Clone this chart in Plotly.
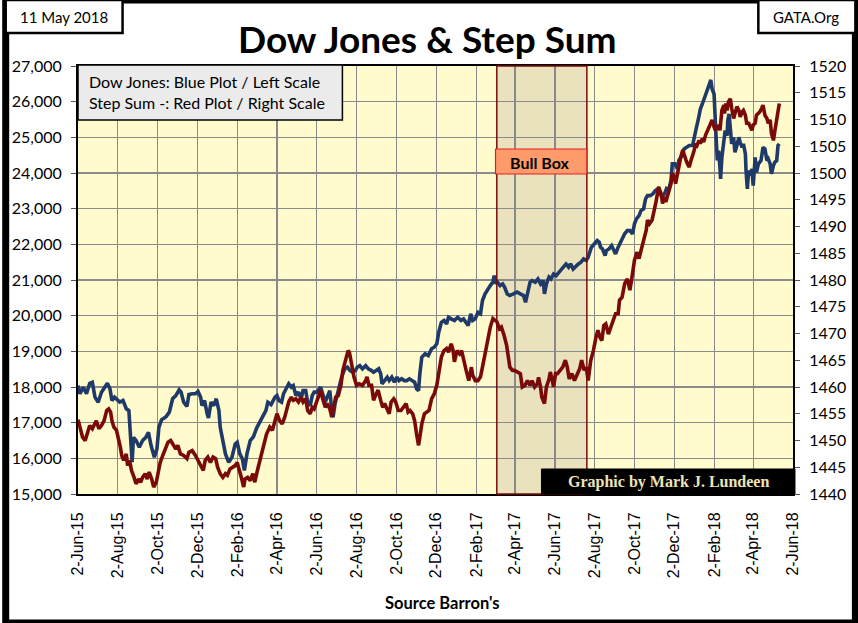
import plotly.graph_objects as go

# ---------------- data ----------------
dow_dates = [
 "2015-06-02","2015-06-05","2015-06-10","2015-06-15","2015-06-20","2015-06-24","2015-06-28","2015-07-03","2015-07-08","2015-07-13",
 "2015-07-17","2015-07-21","2015-07-24","2015-07-28","2015-08-05","2015-08-10","2015-08-15","2015-08-19","2015-08-21","2015-08-24",
 "2015-08-26","2015-08-30","2015-09-04","2015-09-09","2015-09-14","2015-09-18","2015-09-22","2015-09-27","2015-10-01","2015-10-04",
 "2015-10-08","2015-10-15","2015-10-20","2015-10-25","2015-10-30","2015-11-04","2015-11-07","2015-11-11","2015-11-16","2015-11-19",
 "2015-11-24","2015-11-29","2015-12-03","2015-12-07","2015-12-09","2015-12-13","2015-12-17","2015-12-19","2015-12-23","2015-12-27",
 "2015-12-31","2016-01-04","2016-01-06","2016-01-10","2016-01-14","2016-01-19","2016-01-24","2016-01-29","2016-02-01","2016-02-05",
 "2016-02-09","2016-02-12","2016-02-16","2016-02-21","2016-02-26","2016-03-02","2016-03-07","2016-03-12","2016-03-16","2016-03-19",
 "2016-03-24","2016-03-30","2016-04-02","2016-04-05","2016-04-09","2016-04-12","2016-04-16","2016-04-20","2016-04-24","2016-04-27",
 "2016-05-01","2016-05-05","2016-05-09","2016-05-12","2016-05-16","2016-05-19","2016-05-23","2016-05-26","2016-05-29","2016-06-02",
 "2016-06-06","2016-06-08","2016-06-11","2016-06-15","2016-06-18","2016-06-22","2016-06-25","2016-06-27","2016-06-30","2016-07-04",
 "2016-07-06","2016-07-10","2016-07-15","2016-07-19","2016-07-23","2016-07-27","2016-07-31","2016-08-03","2016-08-07","2016-08-11",
 "2016-08-16","2016-08-20","2016-08-25","2016-08-28","2016-09-01","2016-09-05","2016-09-08","2016-09-10","2016-09-14","2016-09-18",
 "2016-09-21","2016-09-25","2016-09-29","2016-10-03","2016-10-06","2016-10-10","2016-10-14","2016-10-18","2016-10-22","2016-10-26",
 "2016-10-30","2016-11-02","2016-11-05","2016-11-07","2016-11-10","2016-11-15","2016-11-20","2016-11-25","2016-11-29","2016-12-03",
 "2016-12-06","2016-12-10","2016-12-14","2016-12-18","2016-12-21","2016-12-25","2016-12-30","2017-01-04","2017-01-09","2017-01-13",
 "2017-01-17","2017-01-20","2017-01-24","2017-01-27","2017-01-31","2017-02-04","2017-02-08","2017-02-11","2017-02-15","2017-02-19",
 "2017-02-23","2017-02-27","2017-03-01","2017-03-04","2017-03-06","2017-03-10","2017-03-14","2017-03-17","2017-03-21","2017-03-25",
 "2017-03-31","2017-04-05","2017-04-10","2017-04-15","2017-04-18","2017-04-21","2017-04-25","2017-04-28","2017-05-03","2017-05-07",
 "2017-05-11","2017-05-15","2017-05-17","2017-05-20","2017-05-24","2017-05-27","2017-05-31","2017-06-04","2017-06-08","2017-06-13",
 "2017-06-16","2017-06-19","2017-06-23","2017-06-26","2017-06-30","2017-07-05","2017-07-08","2017-07-12","2017-07-16","2017-07-20",
 "2017-07-23","2017-07-28","2017-08-02","2017-08-06","2017-08-09","2017-08-11","2017-08-14","2017-08-18","2017-08-20","2017-08-24",
 "2017-08-28","2017-08-31","2017-09-03","2017-09-07","2017-09-12","2017-09-17","2017-09-21","2017-09-25","2017-09-29","2017-10-02",
 "2017-10-05","2017-10-09","2017-10-12","2017-10-16","2017-10-19","2017-10-22","2017-10-26","2017-10-30","2017-11-03","2017-11-07",
 "2017-11-10","2017-11-13","2017-11-17","2017-11-20","2017-11-23","2017-11-27","2017-11-29","2017-12-03","2017-12-07","2017-12-09",
 "2017-12-14","2017-12-17","2017-12-21","2017-12-25","2017-12-30","2018-01-03","2018-01-05","2018-01-08","2018-01-11","2018-01-14",
 "2018-01-18","2018-01-21","2018-01-24","2018-01-27","2018-01-29","2018-02-01","2018-02-02","2018-02-04","2018-02-06","2018-02-08",
 "2018-02-10","2018-02-11","2018-02-13","2018-02-16","2018-02-18","2018-02-21","2018-02-22","2018-02-24","2018-02-26","2018-02-28",
 "2018-03-03","2018-03-05","2018-03-08","2018-03-11","2018-03-13","2018-03-16","2018-03-18","2018-03-21","2018-03-22","2018-03-24",
 "2018-03-26","2018-03-28","2018-03-31","2018-04-02","2018-04-05","2018-04-07","2018-04-10","2018-04-14","2018-04-17","2018-04-20",
 "2018-04-23","2018-04-25","2018-04-28","2018-04-30","2018-05-03","2018-05-05","2018-05-08","2018-05-10","2018-05-12",
]
dow_values = [
 18040,17810,17995,17810,18105,18135,17715,17575,17855,17995,
 18105,17950,17620,17715,17575,17620,17390,17340,16780,15890,
 16590,16500,16310,16500,16590,16730,16360,16030,16265,16870,
 17080,17170,17295,17670,17760,17920,17855,17575,17455,17790,
 17810,17810,17875,17715,17480,17620,17250,17135,17575,17480,
 17670,17340,16870,16500,16125,15890,16030,16405,16450,16125,
 15985,15660,16125,16500,16610,16855,17040,17200,17340,17575,
 17510,17715,17760,17620,17575,17810,17950,18090,17995,18040,
 17760,17855,17670,17900,17900,17575,17480,17760,17855,17855,
 17950,17995,17810,17575,17715,17900,17340,17155,17525,17810,
 18040,18275,18510,18555,18460,18415,18460,18555,18600,18510,
 18600,18510,18460,18415,18460,18510,18370,18090,18180,18275,
 18180,18275,18135,18275,18180,18230,18180,18180,18230,18180,
 18135,17950,17900,18370,18835,18930,18880,19070,19115,19210,
 19535,19815,19865,19770,19955,19910,19865,19955,19865,19910,
 19815,19725,20050,19865,19910,20095,20050,20425,20610,20750,
 20845,20940,21125,20890,20940,20845,20890,20795,20610,20565,
 20610,20660,20610,20565,20375,20660,20940,20985,20940,21030,
 20890,20985,20610,20890,21080,21030,21170,21125,21220,21310,
 21405,21450,21360,21450,21310,21405,21450,21500,21590,21545,
 21640,21920,22010,22105,22060,21920,21870,21685,21825,21870,
 21965,21870,21730,21920,22105,22295,22385,22385,22295,22575,
 22715,22805,22945,22995,23275,23365,23365,23415,23505,23555,
 23460,23320,23415,23555,23505,23790,24255,24255,24115,24350,
 24490,24675,24720,24770,24770,25190,25280,25515,25795,25935,
 26170,26265,26450,26610,26355,26215,25655,25050,24350,24630,
 24160,23835,24440,24910,25190,25050,25470,25655,25190,24815,
 25000,24580,24770,25000,24860,24720,24815,24535,24070,23555,
 24070,23930,24115,23645,24440,24020,24255,24350,24720,24675,
 24350,24395,24255,23975,24210,24300,24350,24770,24815,
]

step_dates = [
 "2015-06-02","2015-06-05","2015-06-09","2015-06-13","2015-06-17","2015-06-20","2015-06-24","2015-06-27","2015-06-30","2015-07-04",
 "2015-07-08","2015-07-12","2015-07-16","2015-07-19","2015-07-22","2015-07-24","2015-07-27","2015-07-31","2015-08-03","2015-08-06",
 "2015-08-08","2015-08-11","2015-08-15","2015-08-17","2015-08-20","2015-08-23","2015-08-27","2015-08-30","2015-09-03","2015-09-06",
 "2015-09-09","2015-09-13","2015-09-16","2015-09-19","2015-09-23","2015-09-26","2015-09-30","2015-10-02","2015-10-06","2015-10-10",
 "2015-10-15","2015-10-18","2015-10-22","2015-10-26","2015-10-30","2015-11-02","2015-11-06","2015-11-11","2015-11-16","2015-11-19",
 "2015-11-24","2015-11-29","2015-12-03","2015-12-07","2015-12-11","2015-12-14","2015-12-18","2015-12-22","2015-12-26","2015-12-30",
 "2016-01-02","2016-01-06","2016-01-10","2016-01-14","2016-01-17","2016-01-21","2016-01-25","2016-01-29","2016-02-01","2016-02-05",
 "2016-02-08","2016-02-11","2016-02-13","2016-02-17","2016-02-21","2016-02-25","2016-02-28","2016-03-03","2016-03-06","2016-03-09",
 "2016-03-13","2016-03-17","2016-03-22","2016-03-26","2016-03-30","2016-04-02","2016-04-06","2016-04-10","2016-04-14","2016-04-16",
 "2016-04-20","2016-04-24","2016-04-27","2016-05-01","2016-05-05","2016-05-09","2016-05-12","2016-05-16","2016-05-19","2016-05-23",
 "2016-05-26","2016-05-29","2016-06-02","2016-06-06","2016-06-08","2016-06-11","2016-06-15","2016-06-18","2016-06-22","2016-06-25",
 "2016-06-29","2016-07-01","2016-07-05","2016-07-09","2016-07-12","2016-07-16","2016-07-20","2016-07-22","2016-07-25","2016-07-29",
 "2016-08-02","2016-08-06","2016-08-11","2016-08-16","2016-08-18","2016-08-21","2016-08-25","2016-08-28","2016-09-01","2016-09-04",
 "2016-09-08","2016-09-11","2016-09-14","2016-09-18","2016-09-21","2016-09-24","2016-09-28","2016-10-01","2016-10-05","2016-10-09",
 "2016-10-13","2016-10-17","2016-10-20","2016-10-23","2016-10-27","2016-10-30","2016-11-02","2016-11-05","2016-11-07","2016-11-10",
 "2016-11-14","2016-11-17","2016-11-21","2016-11-25","2016-11-29","2016-12-03","2016-12-06","2016-12-10","2016-12-14","2016-12-18",
 "2016-12-21","2016-12-25","2016-12-28","2016-12-30","2017-01-03","2017-01-07","2017-01-10","2017-01-13","2017-01-17","2017-01-21",
 "2017-01-25","2017-01-27","2017-01-31","2017-02-04","2017-02-08","2017-02-11","2017-02-15","2017-02-19","2017-02-23","2017-02-27",
 "2017-03-02","2017-03-05","2017-03-09","2017-03-12","2017-03-16","2017-03-20","2017-03-25","2017-03-29","2017-04-01","2017-04-05",
 "2017-04-10","2017-04-13","2017-04-17","2017-04-21","2017-04-25","2017-04-28","2017-05-02","2017-05-06","2017-05-08","2017-05-11",
 "2017-05-13","2017-05-17","2017-05-20","2017-05-24","2017-05-26","2017-05-29","2017-05-31","2017-06-03","2017-06-06","2017-06-10",
 "2017-06-14","2017-06-18","2017-06-21","2017-06-24","2017-06-28","2017-07-02","2017-07-06","2017-07-10","2017-07-13","2017-07-17",
 "2017-07-20","2017-07-23","2017-07-27","2017-07-31","2017-08-04","2017-08-07","2017-08-10","2017-08-13","2017-08-16","2017-08-19",
 "2017-08-23","2017-08-26","2017-08-30","2017-09-03","2017-09-07","2017-09-09","2017-09-13","2017-09-17","2017-09-21","2017-09-25",
 "2017-09-29","2017-10-02","2017-10-06","2017-10-09","2017-10-12","2017-10-16","2017-10-20","2017-10-22","2017-10-25","2017-10-29",
 "2017-11-02","2017-11-04","2017-11-08","2017-11-09","2017-11-12","2017-11-14","2017-11-17","2017-11-19","2017-11-22","2017-11-24",
 "2017-11-27","2017-11-29","2017-12-02","2017-12-04","2017-12-07","2017-12-09","2017-12-12","2017-12-15","2017-12-17","2017-12-20",
 "2017-12-22","2017-12-25","2017-12-27","2017-12-30","2018-01-01","2018-01-04","2018-01-06","2018-01-09","2018-01-11","2018-01-14",
 "2018-01-16","2018-01-19","2018-01-21","2018-01-24","2018-01-27","2018-01-29","2018-02-01","2018-02-03","2018-02-06","2018-02-08",
 "2018-02-10","2018-02-11","2018-02-13","2018-02-16","2018-02-17","2018-02-19","2018-02-21","2018-02-23","2018-02-26","2018-02-28",
 "2018-03-03","2018-03-05","2018-03-08","2018-03-11","2018-03-13","2018-03-16","2018-03-18","2018-03-21","2018-03-23","2018-03-26",
 "2018-03-28","2018-03-31","2018-04-02","2018-04-05","2018-04-07","2018-04-10","2018-04-12","2018-04-15","2018-04-17","2018-04-20",
 "2018-04-23","2018-04-25","2018-04-28","2018-04-30","2018-05-03","2018-05-05","2018-05-08","2018-05-10","2018-05-12",
]
step_values = [
 1453.9,1452.5,1450.6,1450.0,1451.9,1452.8,1452.2,1452.8,1453.7,1452.2,
 1452.8,1453.7,1455.6,1455.9,1455.3,1453.7,1452.5,1451.9,1450.6,1448.7,
 1447.2,1446.3,1447.5,1445.3,1446.3,1444.4,1443.1,1441.9,1442.8,1442.2,
 1443.1,1443.8,1442.8,1444.1,1442.8,1441.3,1442.2,1443.8,1445.9,1447.2,
 1448.7,1449.7,1450.0,1449.1,1448.4,1449.1,1447.5,1447.2,1446.6,1447.8,
 1448.1,1447.2,1446.3,1445.3,1444.4,1446.3,1446.9,1445.9,1446.9,1446.6,
 1445.0,1443.8,1443.1,1443.8,1443.5,1444.7,1445.0,1445.3,1445.9,1444.4,
 1442.8,1441.3,1442.8,1443.1,1442.5,1443.8,1442.2,1444.4,1445.9,1446.9,
 1448.7,1451.2,1452.5,1451.9,1453.7,1455.0,1453.7,1453.1,1454.4,1455.6,
 1457.2,1458.1,1457.5,1457.8,1457.2,1458.1,1457.2,1457.8,1455.6,1455.0,
 1456.2,1455.9,1457.2,1458.4,1459.4,1457.8,1456.2,1456.9,1455.9,1454.4,
 1456.9,1458.1,1458.4,1460.3,1463.1,1465.0,1466.8,1466.5,1464.4,1461.9,
 1460.3,1460.6,1460.3,1461.2,1461.9,1460.3,1460.3,1457.5,1458.7,1459.4,
 1457.5,1456.2,1456.9,1455.9,1455.0,1457.2,1457.8,1457.2,1455.6,1455.6,
 1456.2,1456.9,1455.3,1455.6,1455.0,1453.7,1451.2,1449.1,1450.6,1453.1,
 1455.0,1455.3,1455.6,1457.8,1458.7,1460.3,1462.5,1465.6,1466.8,1467.2,
 1466.5,1468.1,1466.8,1464.7,1466.8,1466.2,1466.8,1465.0,1463.1,1461.2,
 1463.7,1462.2,1461.2,1461.2,1461.9,1463.7,1466.5,1469.3,1471.2,1472.8,
 1472.5,1472.2,1470.9,1471.2,1469.7,1467.8,1463.7,1463.1,1463.1,1462.8,
 1462.5,1460.0,1460.3,1461.2,1460.3,1461.2,1460.0,1460.6,1461.8,1460.0,
 1458.1,1456.9,1460.0,1461.5,1462.8,1461.2,1460.0,1462.5,1462.5,1463.1,
 1463.7,1465.0,1463.7,1461.5,1462.5,1461.2,1462.5,1463.4,1465.0,1463.1,
 1463.7,1461.2,1465.0,1466.8,1469.3,1470.6,1469.3,1468.7,1471.5,1471.8,
 1469.9,1470.9,1472.1,1473.7,1473.7,1476.2,1476.8,1479.3,1480.2,1478.1,
 1481.2,1483.7,1485.2,1484.0,1485.5,1487.4,1489.3,1491.2,1490.5,1491.2,
 1493.3,1494.6,1497.4,1497.1,1496.1,1494.3,1495.5,1494.6,1496.1,1496.8,
 1498.0,1499.9,1499.3,1498.0,1499.9,1501.8,1503.0,1504.3,1503.3,1502.4,
 1501.8,1501.1,1502.1,1503.0,1504.0,1505.5,1505.2,1506.1,1505.5,1506.4,
 1505.8,1507.1,1507.7,1508.6,1509.6,1509.9,1508.6,1508.0,1508.6,1508.9,
 1508.0,1510.2,1511.7,1512.7,1511.1,1513.0,1511.7,1513.3,1513.9,1512.1,
 1510.2,1511.1,1512.4,1511.7,1510.5,1511.4,1511.7,1510.8,1509.3,1509.3,
 1508.6,1508.0,1509.0,1509.3,1510.8,1511.1,1511.4,1512.1,1512.7,1510.8,
 1510.2,1509.3,1509.9,1507.4,1506.1,1507.7,1510.2,1512.1,1513.0,
]

tick_dates = ["2015-06-02","2015-08-02","2015-10-02","2015-12-02","2016-02-02","2016-04-02","2016-06-02",
              "2016-08-02","2016-10-02","2016-12-02","2017-02-02","2017-04-02","2017-06-02","2017-08-02",
              "2017-10-02","2017-12-02","2018-02-02","2018-04-02","2018-06-02"]
tick_labels = ["2-Jun-15","2-Aug-15","2-Oct-15","2-Dec-15","2-Feb-16","2-Apr-16","2-Jun-16",
               "2-Aug-16","2-Oct-16","2-Dec-16","2-Feb-17","2-Apr-17","2-Jun-17","2-Aug-17",
               "2-Oct-17","2-Dec-17","2-Feb-18","2-Apr-18","2-Jun-18"]
x_range = ["2015-06-02", "2018-06-02"]
left_range = [15000, 27000]
right_range = [1440, 1520]
bull_box_start = "2017-03-05"
bull_box_end = "2017-07-21"

# ---------------- figure ----------------
W, H = 858, 623
ML, MR, MT, MB = 73, 63, 66, 129
PW, PH = W - ML - MR, H - MT - MB

def px(x):
    return (x - ML) / PW

def py(y):
    return (H - MB - y) / PH

fig = go.Figure()
fig.add_trace(go.Scatter(x=dow_dates, y=dow_values, mode="lines",
                         line=dict(color="#1F3A68", width=3.6), yaxis="y", hoverinfo="skip"))
fig.add_trace(go.Scatter(x=step_dates, y=step_values, mode="lines",
                         line=dict(color="#7A0A0A", width=3.6), yaxis="y2", hoverinfo="skip"))

sans = "Lato"
shapes = [
    dict(type="rect", xref="x", yref="paper", x0=bull_box_start, x1=bull_box_end, y0=0, y1=1,
         fillcolor="#EAE2BC", line=dict(width=0), layer="below"),
    dict(type="rect", xref="x", yref="paper", x0=bull_box_start, x1=bull_box_end, y0=0, y1=1,
         fillcolor="rgba(0,0,0,0)", line=dict(color="#7A0A0A", width=1.5), layer="above"),
    dict(type="rect", xref="paper", yref="paper", x0=px(0), x1=px(W), y0=py(H), y1=py(0),
         line=dict(color="black", width=7), fillcolor="rgba(0,0,0,0)"),
    dict(type="rect", xref="paper", yref="paper", x0=px(0), x1=px(118), y0=py(33), y1=py(0),
         line=dict(color="black", width=2.5), fillcolor="white"),
    dict(type="rect", xref="paper", yref="paper", x0=px(760), x1=px(W), y0=py(33), y1=py(0),
         line=dict(color="black", width=2.5), fillcolor="white"),
    dict(type="rect", xref="paper", yref="paper", x0=px(73), x1=px(340), y0=py(120), y1=py(65),
         line=dict(color="black", width=1.5), fillcolor="#EBEBEB"),
    dict(type="rect", xref="paper", yref="paper", x0=px(541), x1=px(797), y0=py(494), y1=py(469),
         line=dict(color="black", width=1), fillcolor="black"),
    dict(type="rect", xref="x", yref="paper", x0="2017-03-03", x1=bull_box_end, y0=py(174), y1=py(149),
         line=dict(color="#E02020", width=1.2), fillcolor="#FF9A6A"),
]

annotations = [
    dict(text="Dow Jones & Step Sum", xref="paper", yref="paper", x=px(426), y=py(38),
         xanchor="center", yanchor="middle", showarrow=False,
         font=dict(family=sans, size=37, color="black", weight="bold")),
    dict(text="11 May 2018", xref="paper", yref="paper", x=px(59), y=py(17),
         xanchor="center", yanchor="middle", showarrow=False,
         font=dict(family=sans, size=15, color="black")),
    dict(text="GATA.Org", xref="paper", yref="paper", x=px(808), y=py(17),
         xanchor="center", yanchor="middle", showarrow=False,
         font=dict(family=sans, size=15, color="black")),
    dict(text="Dow Jones: Blue Plot / Left Scale<br>Step Sum -: Red Plot / Right Scale",
         xref="paper", yref="paper", x=px(82), y=py(92), xanchor="left", yanchor="middle",
         align="left", showarrow=False, font=dict(family=sans, size=16, color="black")),
    dict(text="Graphic by Mark J. Lundeen", xref="paper", yref="paper", x=px(669), y=py(482),
         xanchor="center", yanchor="middle", showarrow=False,
         font=dict(family="Liberation Serif", size=16, color="#EDE3B8", weight="bold")),
    dict(text="Bull Box", xref="paper", yref="paper", x=px(540), y=py(162),
         xanchor="center", yanchor="middle", showarrow=False,
         font=dict(family=sans, size=16, color="black", weight="bold")),
    dict(text="Source Barron's", xref="paper", yref="paper", x=px(441), y=py(603),
         xanchor="center", yanchor="middle", showarrow=False,
         font=dict(family=sans, size=16.5, color="black", weight="bold")),
]

fig.update_layout(
    width=W, height=H,
    margin=dict(l=ML, r=MR, t=MT, b=MB, pad=0),
    paper_bgcolor="white", plot_bgcolor="#FFFBCC",
    showlegend=False, hovermode=False,
    shapes=shapes, annotations=annotations,
    xaxis=dict(type="date", range=x_range, tickvals=tick_dates, ticktext=tick_labels,
               tickangle=-90, tickfont=dict(family="Liberation Sans", size=16, color="black"),
               showgrid=True, gridcolor="#8A8A8A", gridwidth=1.3,
               showline=True, linecolor="black", linewidth=2, mirror=True,
               ticks="", ticklabelstandoff=10, zeroline=False),
    yaxis=dict(range=left_range, dtick=1000, tickformat=",d",
               tickfont=dict(family=sans, size=16, color="black"),
               showgrid=True, gridcolor="#8A8A8A", gridwidth=1.3,
               showline=True, linecolor="black", linewidth=2, mirror=True,
               ticks="outside", ticklen=5, tickcolor="#555555", ticklabelstandoff=6, zeroline=False),
    yaxis2=dict(range=right_range, dtick=5, overlaying="y", side="right",
                tickfont=dict(family=sans, size=16, color="black"),
                showgrid=False, showline=True, linecolor="black", linewidth=2,
                ticks="outside", ticklen=5, tickcolor="#555555", ticklabelstandoff=6, zeroline=False),
)

fig.write_html("out.html", config={"displayModeBar": False, "staticPlot": True},
               post_script="document.body.style.margin='0px';document.body.style.overflow='hidden';")
